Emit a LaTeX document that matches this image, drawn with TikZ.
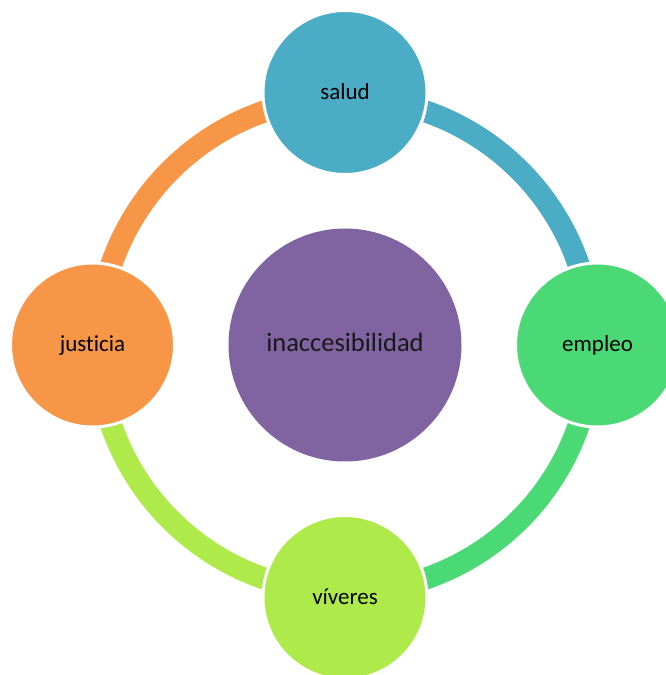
\documentclass[tikz,border=0pt]{standalone}
\usepackage{fontspec}
\setmainfont{Carlito}[Ligatures=NoCommon]
\definecolor{cBlue}{HTML}{4BACC6}
\definecolor{cGreen}{HTML}{4AD975}
\definecolor{cLime}{HTML}{ADEA4A}
\definecolor{cOrange}{HTML}{F79646}
\definecolor{cPurple}{HTML}{8064A2}
\tikzset{
  sat/.style={circle, draw=white, line width=3pt, minimum size=164pt, inner sep=0pt,
    text height=14pt, text depth=0pt, font=\fontsize{23}{28}\selectfont, text=black},
  hub/.style={circle, fill=cPurple, minimum size=233pt, inner sep=0pt,
    text height=14pt, text depth=0pt, font=\fontsize{26.5}{32}\selectfont, text=black!90},
  ring/.style={line width=22pt, line cap=butt}
}
\begin{document}
\begin{tikzpicture}[x=1pt,y=1pt]
\useasboundingbox (0,0) rectangle (665,675);
\node[hub] (hub) at (345,330) {inaccesibilidad};
% ring segments
\draw[ring, cBlue]   ([shift={(90:247)}]hub.center) arc[start angle=90, end angle=0, radius=247];
\draw[ring, cGreen]  ([shift={(0:247)}]hub.center) arc[start angle=0, end angle=-90, radius=247];
\draw[ring, cLime]   ([shift={(-90:247)}]hub.center) arc[start angle=-90, end angle=-180, radius=247];
\draw[ring, cOrange] ([shift={(180:247)}]hub.center) arc[start angle=180, end angle=90, radius=247];
% satellites
\node[sat, fill=cBlue]   (salud)    at (345,582.5) {salud};
\node[sat, fill=cGreen]  (empleo)   at (597.5,330) {empleo};
\node[sat, fill=cLime]   (viveres)  at (345,77.5) {víveres};
\node[sat, fill=cOrange] (justicia) at (92.5,330) {justicia};
\end{tikzpicture}
\end{document}
